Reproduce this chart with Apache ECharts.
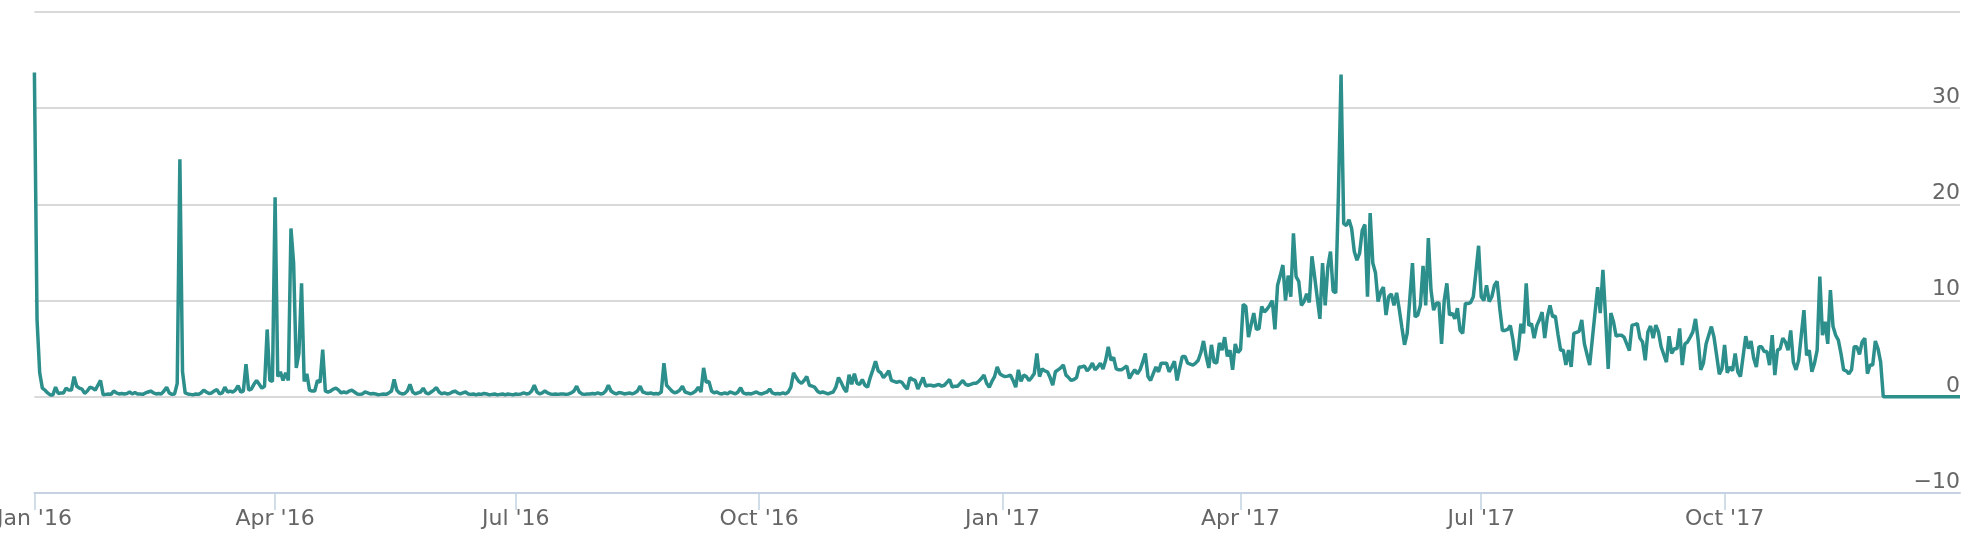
<!DOCTYPE html>
<html lang="en">
<head>
    <meta charset="UTF-8">
    <title>Daily series 2016-2017</title>
    <script src="https://cdn.jsdelivr.net/npm/echarts@6.0.0/dist/echarts.min.js"></script>
    <style>
        html, body { margin: 0; padding: 0; background: #fff; }
    </style>
</head>
<body>
    <div id="chart" style="width: 1974px; height: 548px;"></div>

    <script>
        // daily values, first day 2016-01-01
        var firstDay = [2016, 0, 1];

        var values2016 = [
            33.7, 8, 2.5, 0.9, 0.7, 0.4, 0.2, 0.2, 1.0, 0.35,
            0.4, 0.4, 0.9, 0.7, 0.7, 2.1, 1.1, 0.9, 0.8, 0.35,
            0.6, 1.0, 0.9, 0.7, 1.2, 1.7, 0.2, 0.25, 0.3, 0.25,
            0.6, 0.4, 0.3, 0.35, 0.3, 0.35, 0.5, 0.3, 0.45, 0.3,
            0.3, 0.25, 0.4, 0.5, 0.6, 0.4, 0.3, 0.35, 0.3, 0.6,
            1.0, 0.4, 0.25, 0.3, 1.4, 24.7, 2.6, 0.4, 0.3, 0.25,
            0.2, 0.3, 0.25, 0.4, 0.7, 0.5, 0.35, 0.4, 0.6, 0.75,
            0.3, 0.4, 1.0, 0.5, 0.6, 0.5, 0.7, 1.15, 0.5, 0.6,
            3.4, 0.7, 0.8, 1.3, 1.7, 1.3, 0.9, 1.1, 7.0, 1.7,
            1.6, 20.75, 2.1, 2.6, 1.7, 2.5, 1.7, 17.5, 13.9, 3.0,
            4.5, 11.8, 1.6, 2.4, 0.7, 0.6, 0.6, 1.7, 1.5, 4.9,
            0.6, 0.5, 0.6, 0.8, 0.9, 0.7, 0.4, 0.5, 0.4, 0.6,
            0.7, 0.5, 0.3, 0.25, 0.3, 0.5, 0.4, 0.3, 0.35, 0.3,
            0.2, 0.25, 0.3, 0.25, 0.4, 0.6, 1.8, 0.7, 0.4, 0.3,
            0.35, 0.6, 1.3, 0.5, 0.3, 0.4, 0.5, 0.9, 0.4, 0.3,
            0.5, 0.7, 0.95, 0.5, 0.3, 0.4, 0.3, 0.35, 0.5, 0.6,
            0.4, 0.3, 0.4, 0.5, 0.3, 0.25, 0.3, 0.2, 0.3, 0.25,
            0.35, 0.3, 0.2, 0.25, 0.3, 0.2, 0.25, 0.3, 0.2, 0.3,
            0.25, 0.2, 0.3, 0.25, 0.3, 0.4, 0.3, 0.35, 0.6, 1.2,
            0.5, 0.3, 0.4, 0.6, 0.4, 0.3, 0.25, 0.3, 0.25, 0.3,
            0.3, 0.25, 0.3, 0.4, 0.6, 1.1, 0.5, 0.3, 0.25, 0.3,
            0.3, 0.35, 0.3, 0.4, 0.3, 0.35, 0.6, 1.2, 0.6, 0.4,
            0.3, 0.45, 0.4, 0.3, 0.35, 0.4, 0.3, 0.4, 0.6, 1.1,
            0.5, 0.4, 0.35, 0.4, 0.3, 0.35, 0.3, 0.5, 3.5, 1.2,
            0.9, 0.6, 0.4, 0.5, 0.7, 1.1, 0.5, 0.4, 0.3, 0.4,
            0.6, 1.0, 0.5, 3.0, 1.5, 1.6, 0.6, 0.4, 0.5, 0.35,
            0.3, 0.4, 0.3, 0.5, 0.4, 0.3, 0.5, 0.95, 0.4, 0.3,
            0.35, 0.3, 0.4, 0.5, 0.35, 0.3, 0.4, 0.5, 0.8, 0.4,
            0.3, 0.35, 0.3, 0.4, 0.3, 0.5, 1.0, 2.5, 2.0, 1.6,
            1.4, 1.7, 2.1, 1.2, 1.1, 1.0, 0.6, 0.4, 0.5, 0.4,
            0.3, 0.4, 0.5, 1.0, 2.0, 1.5, 0.9, 0.5, 2.3, 1.3,
            2.4, 1.4, 1.3, 1.8, 1.2, 1.0, 2.0, 2.8, 3.7, 2.7,
            2.5, 2.0, 2.3, 2.7, 1.7, 1.6, 1.5, 1.6, 1.5, 1.1,
            0.8, 2.0, 1.8, 1.7, 0.8, 1.4, 2.0, 1.1, 1.2, 1.2,
            1.1, 1.2, 1.3, 1.1, 1.2, 1.5, 1.8, 1.0, 1.1, 1.1,
            1.4, 1.7, 1.3, 1.2, 1.3, 1.4, 1.4, 1.6, 1.9, 2.25,
            1.4, 1.0, 1.6, 2.1, 3.1, 2.4
        ];

        var values2017 = [
            2.2, 2.1, 2.15, 2.25, 1.7, 1.0, 2.8, 1.6, 2.25, 2.1,
            1.7, 2.0, 2.4, 4.5, 2.1, 2.9, 2.7, 2.6, 2.0, 1.2,
            2.6, 2.8, 3.0, 3.3, 2.25, 2.0, 1.7, 1.8, 2.0, 3.1,
            3.1, 3.2, 2.7, 3.0, 3.5, 2.8, 3.1, 3.5, 2.9, 3.8,
            5.2, 3.8, 4.1, 2.9, 2.8, 2.8, 3.0, 3.2, 1.9, 2.4,
            2.8, 2.4, 2.8, 3.6, 4.5, 2.1, 1.7, 2.4, 3.1, 2.6,
            3.5, 3.5, 3.5, 2.6, 3.1, 3.7, 1.7, 3.0, 4.2, 4.2,
            3.5, 3.4, 3.3, 3.5, 3.8, 4.6, 5.8, 4.2, 3.0, 5.4,
            3.6, 3.5, 5.6, 4.85, 6.2, 4.2, 4.85, 2.8, 5.5, 4.6,
            4.9, 9.6, 9.4, 6.2, 7.5, 8.7, 7.0, 7.1, 9.4, 8.8,
            9.1, 9.5, 10.0, 7.0, 11.6, 12.6, 13.7, 10.0, 12.6, 10.4,
            17.0, 12.5, 12.0, 9.5, 9.9, 10.7, 9.8, 14.6, 12.5, 10.3,
            8.1, 13.9, 9.5, 13.5, 15.1, 11.0, 10.8, 21, 33.5, 18.0,
            17.8, 18.4, 17.5, 15.1, 14.2, 14.9, 17.3, 17.9, 10.4, 19.1,
            13.9, 12.9, 9.9, 10.9, 11.4, 8.5, 10.4, 10.7, 9.5, 10.8,
            9.1, 7.2, 5.4, 6.6, 10.2, 13.9, 8.3, 8.5, 9.5, 13.6,
            9.5, 16.5, 11.1, 9.0, 9.7, 9.8, 5.5, 10.0, 11.8, 8.5,
            8.7, 8.1, 9.2, 6.9, 6.6, 9.7, 9.7, 9.8, 10.4, 13.0,
            15.7, 10.4, 10.0, 11.6, 9.9, 10.4, 11.6, 12.0, 9.2, 6.9,
            6.9, 7.0, 7.4, 5.9, 3.8, 4.85, 7.6, 6.6, 11.8, 7.4,
            7.6, 6.1, 7.4, 8.0, 8.8, 6.1, 8.3, 9.5, 8.3, 8.4,
            6.5, 4.85, 4.85, 3.3, 4.85, 3.1, 6.6, 6.7, 6.8, 8.0,
            5.5, 4.4, 3.3, 6.0, 8.7, 11.4, 8.7, 13.2, 8.3, 2.9,
            8.7, 7.8, 6.3, 6.4, 6.4, 6.2, 5.5, 4.8, 7.45, 7.5,
            7.6, 6.1, 5.7, 3.8, 6.75, 7.35, 6.1, 7.45, 6.75, 5.2,
            4.4, 3.6, 6.3, 4.5, 5.0, 5.0, 7.1, 3.3, 5.5, 5.7,
            6.2, 6.75, 8.1, 5.9, 2.8, 3.5, 5.5, 6.4, 7.3, 6.2,
            4.3, 2.35, 2.9, 5.4, 2.5, 3.1, 2.7, 4.5, 2.6, 2.1,
            4.2, 6.3, 5.0, 5.8, 4.0, 3.1, 5.2, 5.2, 4.7, 4.7,
            3.3, 6.4, 2.25, 4.85, 5.0, 6.1, 5.7, 4.85, 6.9, 3.6,
            2.8, 3.8, 6.4, 9.0, 4.3, 4.85, 2.6, 3.5, 4.85, 12.5,
            6.4, 7.8, 5.5, 11.1, 7.3, 6.4, 5.9, 4.5, 2.8, 2.7,
            2.4, 2.8, 5.2, 5.2, 4.4, 5.7, 6.1, 2.4, 3.3, 3.3,
            5.8, 5.0, 3.6, 0, 0, 0, 0, 0, 0, 0,
            0, 0, 0, 0, 0, 0, 0, 0, 0, 0,
            0, 0, 0, 0, 0, 0, 0, 0, 0, 0,
            0, 0, 0
        ];

        var monthNames = ['Jan', 'Feb', 'Mar', 'Apr', 'May', 'Jun',
                          'Jul', 'Aug', 'Sep', 'Oct', 'Nov', 'Dec'];
        var quarterStarts = ['01-01', '04-01', '07-01', '10-01'];

        var yMin = -10;
        var yMax = 40;
        var yStep = 10;

        var values = values2016.concat(values2017);
        var days = [];
        for (var i = 0; i < values.length; i++) {
            var d = new Date(Date.UTC(firstDay[0], firstDay[1], firstDay[2] + i));
            days.push(d.toISOString().slice(0, 10));
        }

        function isQuarterStart(index, value) {
            return quarterStarts.indexOf(value.slice(5)) !== -1;
        }

        var textColor = '#666666';
        var fontName = 'DejaVu Sans';

        var chart = echarts.init(document.getElementById('chart'));

        chart.setOption({
            animation: false,
            backgroundColor: '#ffffff',
            grid: {
                left: 34.4,
                right: 14,
                top: 12,
                bottom: 55,
                containLabel: false,
                // keep the grid where it is, let the first label run off the edge
                outerBoundsMode: 'none'
            },
            xAxis: {
                type: 'category',
                data: days,
                boundaryGap: false,
                axisLine: {
                    show: true,
                    onZero: false,
                    lineStyle: { color: '#c4d2e3', width: 2 }
                },
                axisTick: {
                    show: true,
                    interval: isQuarterStart,
                    length: 17,
                    lineStyle: { color: '#c4d2e3', width: 1.5 }
                },
                axisLabel: {
                    interval: isQuarterStart,
                    margin: 15,
                    color: textColor,
                    fontSize: 22,
                    fontFamily: fontName,
                    formatter: function (value) {
                        var m = parseInt(value.slice(5, 7), 10) - 1;
                        return monthNames[m] + " '" + value.slice(2, 4);
                    }
                },
                splitLine: { show: false }
            },
            yAxis: {
                type: 'value',
                position: 'right',
                min: yMin,
                max: yMax,
                interval: yStep,
                axisLine: { show: false },
                axisTick: { show: false },
                axisLabel: {
                    inside: true,
                    margin: 0,
                    verticalAlign: 'bottom',
                    color: textColor,
                    fontSize: 22,
                    fontFamily: fontName,
                    formatter: function (v) {
                        if (v === yMax) return '';
                        return v < 0 ? '\u2212' + Math.abs(v) : String(v);
                    }
                },
                splitLine: {
                    show: true,
                    lineStyle: { color: '#d9d9d9', width: 2 }
                }
            },
            series: [{
                type: 'line',
                data: values,
                showSymbol: false,
                symbol: 'none',
                lineStyle: { color: '#2c8f8c', width: 3.5 },
                itemStyle: { color: '#2c8f8c' }
            }]
        });
    </script>
</body>
</html>
